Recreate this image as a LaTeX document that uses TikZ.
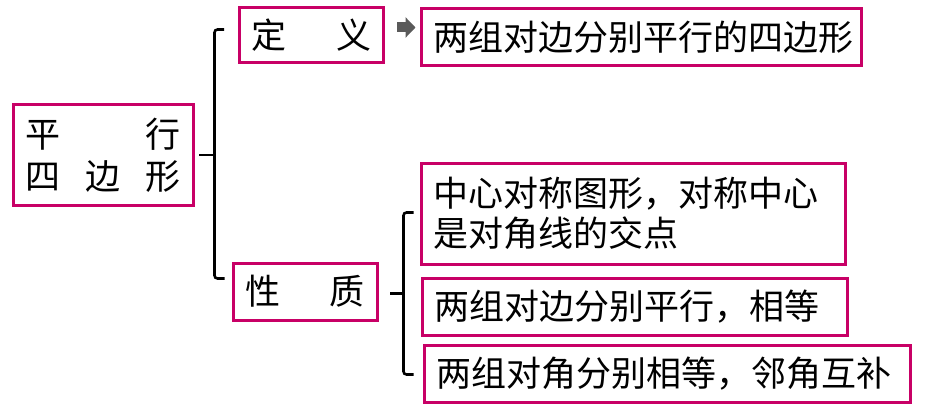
\documentclass[tikz,border=0pt]{standalone}
\usepackage{fontspec}
\newfontfamily\cjk{Noto Sans CJK SC}
\usetikzlibrary{positioning,arrows.meta,calc}
\definecolor{boxpink}{RGB}{200,0,102}
\definecolor{arrowgray}{RGB}{90,90,90}

\begin{document}
\begin{tikzpicture}[
  x=1pt, y=-1pt,
  font=\cjk\fontsize{35}{42}\selectfont,
  box/.style={draw=boxpink, line width=3pt, inner xsep=12pt, inner ysep=0pt, align=left},
  brace/.style={draw=black, line width=2.6pt, rounded corners=3pt},
  blockarrow/.style={draw=arrowgray, line width=10pt, -{Triangle[length=10pt,width=20pt]}},
]
\useasboundingbox (0,0) rectangle (944,417);

% ---- left: topic ----
\node[box, minimum width=180pt, minimum height=100pt, align=center] (main) at (103,155)
  {\hbox to 155pt{平\hfill 行}\\\hbox to 155pt{四\hfill 边\hfill 形}};

% ---- second level ----
\node[box, minimum width=143pt, minimum height=55pt, align=center] (def) at (311.5,35.5)
  {\hbox to 120pt{定\hfill 义}};
\node[box, minimum width=144pt, minimum height=57pt, align=center] (prop) at (305,291.5)
  {\hbox to 120pt{性\hfill 质}};

% ---- definition ----
\node[box, text width=416pt, minimum height=57pt] (dtext) at (641,37.5)
  {两组对边分别平行的四边形};

% ---- properties ----
\node[box, text width=400pt, minimum height=101pt, font=\cjk\fontsize{35}{40}\selectfont] (p1) at (633,213.5)
  {中心对称图形，对称中心\\是对角线的交点};
\node[box, text width=401pt, minimum height=57pt] (p2) at (634.5,306.5)
  {两组对边分别平行，相等};
\node[box, text width=462pt, minimum height=57pt] (p3) at (667,373.5)
  {两组对角分别相等，邻角互补};

% ---- braces ----
\coordinate (b1) at ($(main.east)+(20,0)$);
\draw[brace] ($(def.west)+(-14,-6)$) -| (b1) |- ($(prop.west)+(-7,-13)$);
\draw[brace] (b1) -- ($(main.east)+(4,0)$);

\coordinate (b2) at ($(prop.east)+(25,2)$);
\draw[brace] ($(p1.west)+(-6,-1)$) -| (b2) |- ($(p3.west)+(-9,1)$);
\draw[brace] (b2) -- ($(prop.east)+(11,2)$);

% ---- arrow to definition ----
\draw[blockarrow] ($(def.east)+(12,-8)$) -- ($(dtext.west)+(-4,-10)$);
\end{tikzpicture}
\end{document}
